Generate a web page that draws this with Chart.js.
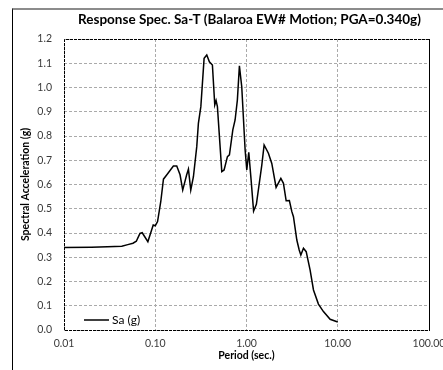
<!DOCTYPE html>
<html>
<head>
<meta charset="utf-8">
<script src="https://cdn.jsdelivr.net/npm/chart.js@4.4.0/dist/chart.umd.min.js"></script>
<style>
  html, body { margin: 0; padding: 0; background: #fff; overflow: hidden; }
  #frame { position: absolute; left: 12px; top: 8px; width: 474px; height: 370px;
           border-left: 1px solid #000; border-top: 2px solid #8c8c8c; }
  #frame canvas { display: block; }
</style>
</head>
<body>
<div id="frame"><canvas id="saChart" width="473" height="360"></canvas></div>
<script>
// Period (sec.) and spectral acceleration Sa (g)
const periods = [0.01, 0.02, 0.03, 0.043, 0.05, 0.057, 0.062, 0.068, 0.072, 0.083,
  0.095, 0.1, 0.106, 0.115, 0.123, 0.134, 0.158, 0.172, 0.187, 0.2,
  0.221, 0.231, 0.245, 0.262, 0.285, 0.297, 0.316, 0.343, 0.367, 0.392,
  0.423, 0.449, 0.464, 0.48, 0.536, 0.568, 0.618, 0.65, 0.708, 0.75,
  0.794, 0.836, 0.887, 0.966, 1.007, 1.059, 1.123, 1.196, 1.283, 1.471,
  1.56, 1.738, 1.893, 2.11, 2.38, 2.54, 2.72, 2.95, 3.14, 3.27,
  3.56, 3.78, 3.94, 4.21, 4.51, 4.98, 5.42, 6.14, 6.97, 8.25, 10];
const saValues = [0.34, 0.341, 0.343, 0.345, 0.352, 0.358, 0.366, 0.398, 0.401, 0.364,
  0.433, 0.43, 0.447, 0.53, 0.622, 0.64, 0.676, 0.676, 0.64, 0.577,
  0.64, 0.663, 0.577, 0.632, 0.756, 0.852, 0.921, 1.12, 1.134, 1.106,
  1.093, 0.928, 0.946, 0.921, 0.653, 0.66, 0.715, 0.722, 0.825, 0.866,
  0.948, 1.089, 1.003, 0.742, 0.66, 0.733, 0.619, 0.49, 0.518, 0.68,
  0.763, 0.729, 0.687, 0.588, 0.625, 0.605, 0.533, 0.534, 0.488, 0.467,
  0.371, 0.33, 0.309, 0.337, 0.323, 0.247, 0.165, 0.107, 0.076, 0.044, 0.033];
const xTicks = [0.01, 0.1, 1, 10, 100];
const seriesLabel = 'Sa (g)';

const FONT = 'Lato';

// рамка области построения: сверху/слева/снизу пунктир, справа сплошная
const plotFrame = {
  id: 'plotFrame',
  beforeDatasetsDraw(chart) {
    const { ctx, chartArea: a } = chart;
    ctx.save();
    ctx.strokeStyle = '#000';
    ctx.lineWidth = 1;
    ctx.setLineDash([3, 1]);
    ctx.beginPath();
    ctx.moveTo(a.right, a.top + 0.5);
    ctx.lineTo(a.left + 0.5, a.top + 0.5);
    ctx.lineTo(a.left + 0.5, a.bottom + 0.5);
    ctx.lineTo(a.right, a.bottom + 0.5);
    ctx.stroke();
    ctx.setLineDash([]);
    ctx.beginPath();
    ctx.moveTo(a.right + 0.5, a.top);
    ctx.lineTo(a.right + 0.5, a.bottom + 1);
    ctx.stroke();
    ctx.restore();
  }
};

// легенда внутри графика, снизу слева
const insideLegend = {
  id: 'insideLegend',
  afterDatasetsDraw(chart) {
    const { ctx, chartArea: a } = chart;
    const ds = chart.data.datasets[0];
    const y = a.bottom - 10;
    const x0 = a.left + 20;
    ctx.save();
    ctx.strokeStyle = ds.borderColor;
    ctx.lineWidth = ds.borderWidth;
    ctx.beginPath();
    ctx.moveTo(x0, y);
    ctx.lineTo(x0 + 25, y);
    ctx.stroke();
    ctx.fillStyle = '#000';
    ctx.font = '12px ' + FONT;
    ctx.textBaseline = 'middle';
    ctx.fillText(ds.label, x0 + 28, y);
    ctx.restore();
  }
};

function initChart() {
  const ctx = document.getElementById('saChart').getContext('2d');
  new Chart(ctx, {
    type: 'line',
    data: {
      datasets: [{
        label: seriesLabel,
        data: periods.map((t, i) => ({ x: t, y: saValues[i] })),
        borderColor: '#000',
        borderWidth: 1.5,
        tension: 0,
        pointRadius: 0,
        fill: false
      }]
    },
    options: {
      responsive: false,
      animation: false,
      layout: { padding: 0 },
      plugins: {
        legend: { display: false },
        tooltip: { enabled: false },
        title: {
          display: true,
          text: 'Response Spec. Sa-T (Balaroa EW# Motion; PGA=0.340g)',
          color: '#000',
          font: { family: FONT, size: 13.5, weight: 'bold' },
          padding: { top: 2, bottom: 10.8 }
        }
      },
      scales: {
        x: {
          type: 'logarithmic',
          min: 0.01,
          max: 100,
          afterBuildTicks: (s) => { s.ticks = xTicks.map(v => ({ value: v })); },
          // место справа под пустую часть диаграммы
          afterFit: (s) => { s.height = 40; s.paddingLeft = 0; s.paddingRight = 57; },
          ticks: {
            padding: 7,
            color: '#3a3a3a',
            font: { family: FONT, size: 10.5 },
            maxRotation: 0,
            callback: (v) => Number(v).toFixed(2)
          },
          grid: { color: '#aaaaaa', drawTicks: false },
          border: { display: false, dash: [3, 2] },
          title: {
            display: true,
            text: 'Period (sec.)',
            color: '#000',
            font: { family: FONT, size: 10.5, weight: 'bold' },
            padding: { top: 0, bottom: 8 }
          }
        },
        y: {
          min: 0,
          max: 1.2,
          afterFit: (s) => { s.width = 51; },
          ticks: {
            stepSize: 0.1,
            padding: 12,
            color: '#3a3a3a',
            font: { family: FONT, size: 10.5 },
            callback: (v) => Number(v).toFixed(1)
          },
          grid: { color: '#aaaaaa', drawTicks: false },
          border: { display: false, dash: [3, 2] },
          title: {
            display: true,
            text: 'Spectral Acceleration (g)',
            color: '#000',
            font: { family: FONT, size: 10.5, weight: 'bold' },
            padding: { top: 6, bottom: 0 }
          }
        }
      }
    },
    plugins: [plotFrame, insideLegend]
  });
}

document.addEventListener('DOMContentLoaded', initChart);
</script>
</body>
</html>
